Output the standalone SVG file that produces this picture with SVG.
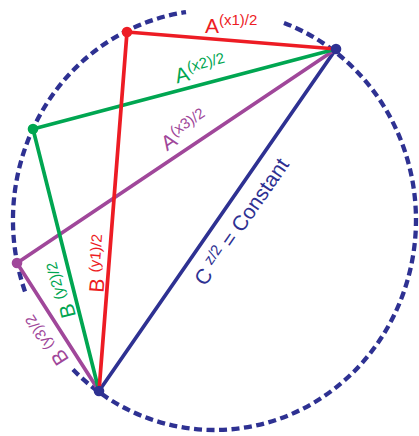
<svg xmlns="http://www.w3.org/2000/svg" width="419" height="436" viewBox="0 0 419 436">
<style>
.ring{fill:none;stroke:#2E3192;stroke-width:4.3;stroke-dasharray:8 4.5}
.ln{fill:none;stroke-width:3.7;stroke-linecap:round}
.red{stroke:#ED1C24}.grn{stroke:#00A651}.pur{stroke:#A0479A}.blu{stroke:#2E3192}
text{font-family:"Liberation Sans",Arial,sans-serif;font-size:21px}
.tr{fill:#ED1C24}.tg{fill:#00A651}.tp{fill:#A0479A}.tb{fill:#2E3192}
.sup{font-size:15px}
</style>
<rect width="419" height="436" fill="#fff"/>
<g id="circle">
<path class="ring" d="M284 22.9 A201.5 210 0 1 1 72 368.5"/>
<path class="ring" d="M25 291.5 A201.5 210 0 0 1 186 12.1"/>
</g>
<g id="connectors">
<line class="ln blu" x1="336" y1="49" x2="99" y2="391"/>
<line class="ln pur" x1="17" y1="263" x2="336" y2="49"/>
<line class="ln pur" x1="17" y1="263" x2="99" y2="391"/>
<line class="ln grn" x1="33" y1="129" x2="336" y2="49"/>
<line class="ln grn" x1="33" y1="129" x2="99" y2="391"/>
<line class="ln red" x1="127" y1="32" x2="336" y2="49"/>
<line class="ln red" x1="127" y1="32" x2="99" y2="391"/>
</g>
<g id="nodeR"><circle cx="127" cy="32" r="5.3" fill="#ED1C24"/></g>
<g id="nodeG"><circle cx="33" cy="129" r="5.3" fill="#00A651"/></g>
<g id="nodeU"><circle cx="17" cy="263" r="5.3" fill="#A0479A"/></g>
<g id="nodeP"><circle cx="336" cy="49" r="5.3" fill="#2E3192"/></g>
<g id="nodeQ"><circle cx="99" cy="391" r="5.3" fill="#2E3192"/></g>
<g id="labels">
<text class="tr" x="205" y="33">A<tspan class="sup" dy="-8">(x1)/2</tspan></text>
<text class="tg" transform="translate(177 83.5) rotate(-14.79)">A<tspan class="sup" dy="-8">(x2)/2</tspan></text>
<text class="tp" transform="translate(167 151.5) rotate(-33.86)">A<tspan class="sup" dy="-8">(x3)/2</tspan></text>
<text class="tr" transform="translate(103.6 293) rotate(-85.54)">B <tspan class="sup" dy="-6">(y1)/2</tspan></text>
<text class="tg" transform="translate(76 316) rotate(-104.14)">B <tspan class="sup" dy="-6">(y2)/2</tspan></text>
<text class="tp" transform="translate(69.5 359.5) rotate(-122.65)">B <tspan class="sup" dy="-6">(y3)/2</tspan></text>
<text class="tb" transform="translate(205 287) rotate(-55.28)">C <tspan class="sup" dy="-7">z/2</tspan><tspan dy="7"> = Constant</tspan></text>
</g>
</svg>
